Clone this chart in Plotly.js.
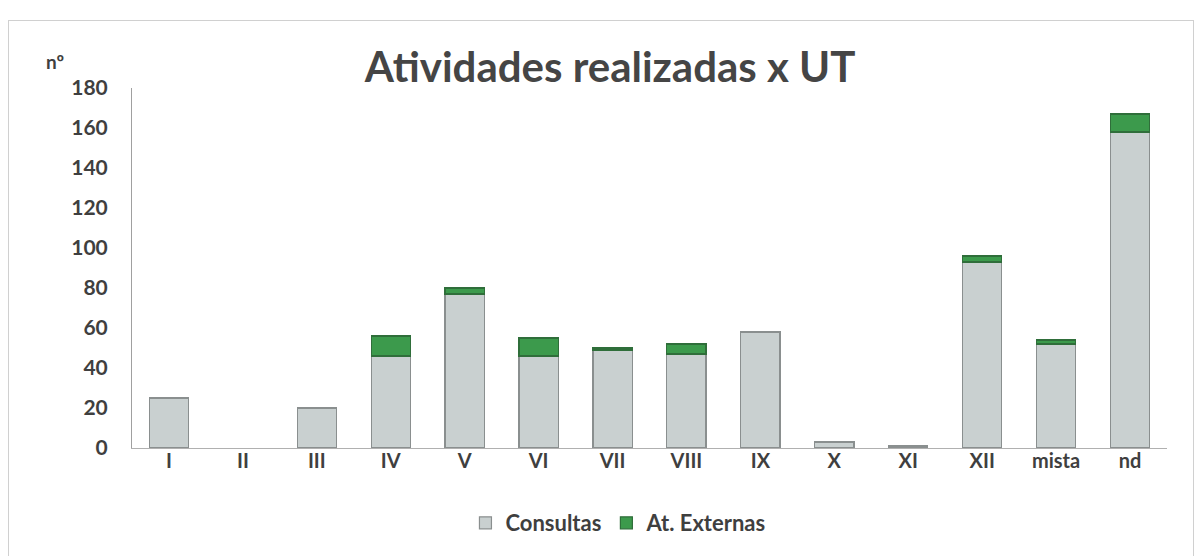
<!DOCTYPE html>
<html>
<head>
<meta charset="utf-8">
<script src="https://cdn.plot.ly/plotly-3.0.1.min.js"></script>
<style>
  html, body { margin: 0; padding: 0; background: #fff; }
  #chart { width: 1198px; height: 556px; }
  #frame { position: absolute; left: 8px; top: 20px; width: 1184px; height: 560px; border: 1px solid #d0d0d0; pointer-events: none; }
</style>
</head>
<body>
<div id="chart"></div>
<div id="frame"></div>
<script>
const categories = ['I', 'II', 'III', 'IV', 'V', 'VI', 'VII', 'VIII', 'IX', 'X', 'XI', 'XII', 'mista', 'nd'];
const consultas = [25, 0, 20, 46, 77, 46, 49, 47, 58, 3, 1, 93, 52, 158];
const atExternas = [0, 0, 0, 10, 3, 9, 1, 5, 0, 0, 0, 3, 2, 9];
const yTicks = [0, 20, 40, 60, 80, 100, 120, 140, 160, 180];

const FONT = 'Lato, "Open Sans", sans-serif';
const TXT = '#3f3f3f';
const hideZero = v => (v === 0 ? null : v);

const traces = [
  {
    type: 'bar', name: 'Consultas', x: categories, y: consultas.map(hideZero),
    marker: { color: '#c9d0d0', line: { color: '#8a8f8f', width: 1.2 } }
  },
  {
    type: 'bar', name: 'At. Externas', x: categories, y: atExternas.map(hideZero),
    marker: { color: '#3c9a4c', line: { color: '#2f6e3a', width: 1.2 } }
  }
];

const layout = {
  width: 1198, height: 556,
  paper_bgcolor: '#fff', plot_bgcolor: '#fff',
  barmode: 'stack', bargap: 0.47,
  margin: { l: 132, r: 31, t: 88, b: 108 },
  font: { family: FONT, color: TXT },
  showlegend: true,
  title: {
    text: '<b>Atividades realizadas x UT</b>',
    font: { family: FONT, size: 42, color: '#454545' },
    x: 0.462, xanchor: 'center', xref: 'paper',
    y: 0.879, yanchor: 'middle', yref: 'container'
  },
  xaxis: {
    type: 'category',
    showgrid: false, zeroline: false,
    showline: true, linecolor: '#b0b0b0', linewidth: 1,
    ticks: '', ticklabelstandoff: -5,
    tickfont: { family: FONT, size: 20, color: TXT, weight: 'bold' }
  },
  yaxis: {
    range: [0, 180], tickvals: yTicks, ticktext: yTicks.map(String),
    showgrid: false, zeroline: false,
    showline: true, linecolor: '#a0a0a0', linewidth: 1,
    ticks: '', ticklabelstandoff: 19,
    tickfont: { family: FONT, size: 21, color: TXT, weight: 'bold' }
  },
  legend: {
    orientation: 'h', x: 0.47, xanchor: 'center', y: -0.15, yanchor: 'top',
    font: { family: FONT, size: 22, color: TXT, weight: 'bold' },
    itemwidth: 30, traceorder: 'normal'
  },
  annotations: [
    {
      text: '<b>nº</b>', xref: 'paper', yref: 'paper', x: -0.074, y: 1.075,
      xanchor: 'center', yanchor: 'middle', showarrow: false,
      font: { family: FONT, size: 19, color: TXT }
    }
  ]
};

Plotly.newPlot('chart', traces, layout, { displayModeBar: false, staticPlot: true });
</script>
</body>
</html>
